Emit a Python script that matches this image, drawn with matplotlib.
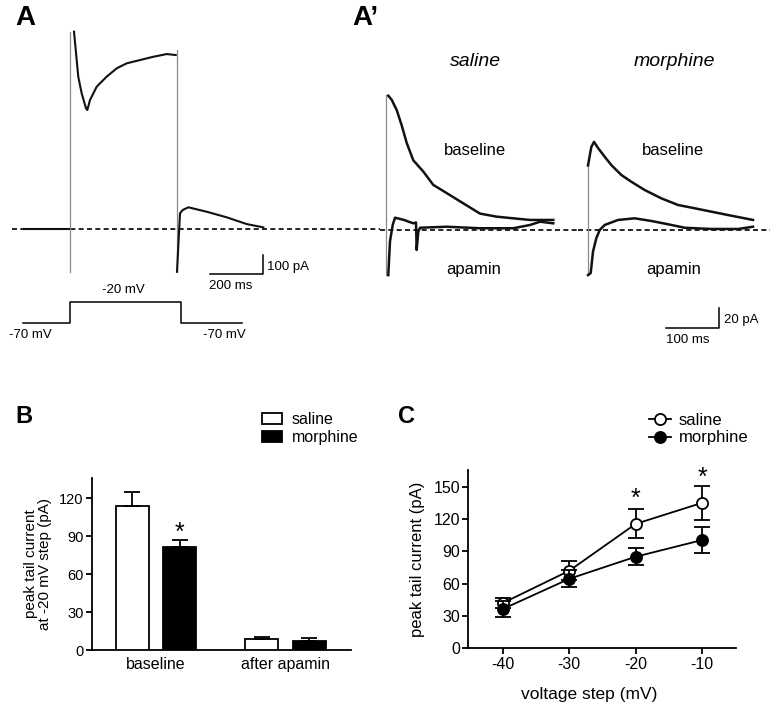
import matplotlib
matplotlib.use('Agg')
import matplotlib.pyplot as plt
from matplotlib.lines import Line2D
from matplotlib.patches import Patch

# ---------------- DATA ----------------
# Panel A: whole-cell current (time in ms from step onset, current in pA)
a_pre_t = [-173, -120, -60, 0]
a_pre_i = [0, 0, 0, 0]
a_on_t = [0, 0]
a_on_i = [-219, 1025]
a_step_t = [13.9, 29.8, 42.5, 58.8, 63.7, 73.8, 98.9, 136.3, 173.8, 211.2, 261, 311, 361, 395]
a_step_i = [1025, 792, 706, 628, 619, 671, 740, 792, 835, 861, 878, 895, 909, 904]
a_off_t = [398.5, 398.5]
a_off_i = [-219, 930]
a_tail_t = [399.6, 410.9, 421, 442, 511, 586, 661, 723]
a_tail_i = [-219, 84, 101, 115, 92, 63, 28, 11]
# voltage protocol (ms, mV)
prot_t = [-178, 0, 0, 413, 413, 642]
prot_mv = [-70, -70, -20, -20, -70, -70]

# Panel A': tail currents (ms from repolarisation, pA)
sal_tr_t = [0, 0]
sal_tr_i = [-44, 132]
sal_base_t = [4.3, 10.7, 20.1, 29.5, 38.8, 51.2, 70, 88.7, 113.9, 145, 176.4, 207.7, 238.8, 270.2, 313.9]
sal_base_i = [131, 127, 117, 102, 85, 68, 57, 44, 36, 26, 16, 13, 11.4, 9.8, 9.8]
sal_apa_t = [4.3, 7.5, 12.6, 16.9, 32.5, 51.2, 56.3, 57.5, 60.6, 63.8, 113.9, 176.4, 238.8, 270.2, 289, 313.9]
sal_apa_i = [-44, -11, 5, 12, 10, 6.5, 7.3, -19.5, -1.7, 2.2, 3.2, 1.7, 1.7, 4.9, 8.1, 6.5]

mor_tr_t = [0, 0]
mor_tr_i = [-44, 63]
mor_base_t = [0, 6.2, 11.3, 18.8, 31.3, 43.7, 62.5, 81.2, 106.4, 137.5, 168.9, 200.2, 231.3, 262.7, 294, 309.6]
mor_base_i = [63, 81, 86, 80, 71.5, 63.4, 53.7, 47.1, 39, 30.9, 24.4, 21.2, 17.9, 14.6, 11.4, 9.8]
mor_apa_t = [0, 5.1, 9.4, 15.6, 22, 31.3, 56.3, 87.6, 118.8, 150.1, 181.4, 231.3, 281.4, 309.6]
mor_apa_i = [-44, -42, -21, -8, 0, 4.9, 9.8, 11.4, 8.8, 5.6, 2.2, 1, 1, 3.2]

# scale bars
sbA_ms, sbA_pA = 200, 100
sbA_t0, sbA_i0 = 523, -232
sbB_ms, sbB_pA = 100, 20
sbB_t0, sbB_i0 = 146.3, -95.9

# Panel B
b_groups = ['baseline', 'after apamin']
b_saline = [114, 8.4]
b_saline_sem = [11, 1.6]
b_morphine = [81.7, 6.9]
b_morphine_sem = [5, 2.3]
b_yticks = [0, 30, 60, 90, 120]

# Panel C
c_volt = [-40, -30, -20, -10]
c_saline = [42, 72, 115.5, 135]
c_saline_err = [5, 9, 13.5, 15.5]
c_morphine = [36.5, 64.5, 85, 100.5]
c_morphine_err = [7.5, 8, 8, 12.5]
c_yticks = [0, 30, 60, 90, 120, 150]
c_star_x = [-20, -10]
c_star_y = [132, 152]

# ---------------- FIGURE ----------------
plt.rcParams['font.family'] = ['Liberation Sans', 'DejaVu Sans']
plt.rcParams['axes.unicode_minus'] = False

W, H = 772, 706
fig = plt.figure(figsize=(W / 100, H / 100), dpi=100)


def px_axes(x0, y0, x1, y1, ox, oy, sx, sy):
    ax = fig.add_axes([x0 / W, 1 - y1 / H, (x1 - x0) / W, (y1 - y0) / H])
    ax.set_xlim((x0 - ox) / sx, (x1 - ox) / sx)
    ax.set_ylim((oy - y1) / sy, (oy - y0) / sy)
    ax.axis('off')
    ax.patch.set_alpha(0)
    return ax


def ftext(x, y, s, **kw):
    fig.text(x / W, 1 - y / H, s, **kw)


TR = '#111111'
GR = '#8a8a8a'
dash = dict(color='black', lw=1.2, ls=(0, (3, 2)))

# ---- Panel A ----
axA = px_axes(0, 25, 380, 300, 70.3, 229.5, 0.267, 0.193)
axA.axhline(0, xmin=11.7 / 380, xmax=1, **dash)
axA.plot(a_pre_t, a_pre_i, color=TR, lw=1.5)
axA.plot(a_on_t, a_on_i, color=GR, lw=0.9)
axA.plot(a_step_t, a_step_i, color=TR, lw=1.5)
axA.plot(a_off_t, a_off_i, color=GR, lw=0.9)
axA.plot(a_tail_t, a_tail_i, color=TR, lw=1.5)
axA.plot([sbA_t0, sbA_t0 + sbA_ms, sbA_t0 + sbA_ms],
         [sbA_i0, sbA_i0, sbA_i0 + sbA_pA], color='black', lw=1.1)

axP = px_axes(0, 290, 380, 345, 70.3, 293.3, 0.267, 0.42)
axP.plot(prot_t, prot_mv, color='black', lw=1.1)

small = 9.5
ftext(267.3, 270, '100 pA', fontsize=small, va='baseline', ha='left')
ftext(209.3, 289.3, '200 ms', fontsize=small, va='baseline', ha='left')
ftext(123, 293.3, '-20 mV', fontsize=small, va='baseline', ha='center')
ftext(30, 337.7, '-70 mV', fontsize=small, va='baseline', ha='center')
ftext(224, 337.7, '-70 mV', fontsize=small, va='baseline', ha='center')

# ---- Panel A' ----
axS = px_axes(380, 80, 578, 300, 386, 230, 0.533, 1.025)
axS.axhline(0, **dash)
axS.plot(sal_tr_t, sal_tr_i, color=GR, lw=0.9)
axS.plot(sal_base_t, sal_base_i, color=TR, lw=1.8)
axS.plot(sal_apa_t, sal_apa_i, color=TR, lw=1.8)

axM = px_axes(578, 80, 772, 345, 588, 230, 0.533, 1.025)
axM.axhline(0, xmin=0, xmax=(770 - 578) / 194, **dash)
axM.plot(mor_tr_t, mor_tr_i, color=GR, lw=0.9)
axM.plot(mor_base_t, mor_base_i, color=TR, lw=1.8)
axM.plot(mor_apa_t, mor_apa_i, color=TR, lw=1.8)
axM.plot([sbB_t0, sbB_t0 + sbB_ms, sbB_t0 + sbB_ms],
         [sbB_i0, sbB_i0, sbB_i0 + sbB_pA], color='black', lw=1.1)

ftext(475.8, 66, 'saline', fontsize=14, style='italic', ha='center', va='baseline')
ftext(674, 66, 'morphine', fontsize=14, style='italic', ha='center', va='baseline')
ftext(475, 155.3, 'baseline', fontsize=12, ha='center', va='baseline')
ftext(673.3, 155.3, 'baseline', fontsize=12, ha='center', va='baseline')
ftext(474, 274, 'apamin', fontsize=12, ha='center', va='baseline')
ftext(674, 274, 'apamin', fontsize=12, ha='center', va='baseline')
ftext(724, 323.3, '20 pA', fontsize=small, va='baseline', ha='left')
ftext(666, 343.3, '100 ms', fontsize=small, va='baseline', ha='left')

# panel letters
ftext(15, 25, 'A', fontsize=20, fontweight='bold', va='baseline')
ftext(352, 25, 'A\u2019', fontsize=20, fontweight='bold', va='baseline')
ftext(15, 423, 'B', fontsize=17, fontweight='bold', va='baseline')
ftext(398, 423, 'C', fontsize=17, fontweight='bold', va='baseline')

# ---- Panel B ----
axB = fig.add_axes([92 / W, 1 - 650 / H, 259 / W, 172 / H])
bw = 0.255
off = 0.183
xg = list(range(len(b_groups)))
ekw = dict(elinewidth=1.3, capthick=1.3, ecolor='black')
axB.bar([x - off for x in xg], b_saline, bw, color='white', edgecolor='black', lw=1.3,
        yerr=[[0] * len(b_saline), b_saline_sem], capsize=6, error_kw=ekw, zorder=3)
axB.bar([x + off for x in xg], b_morphine, bw, color='black', edgecolor='black', lw=1.3,
        yerr=[[0] * len(b_morphine), b_morphine_sem], capsize=6, error_kw=ekw, zorder=3)
axB.text(xg[0] + off, b_morphine[0] + b_morphine_sem[0], '*', fontsize=18,
         ha='center', va='baseline')
axB.set_xlim(-0.494, 1.506)
axB.set_ylim(0, 136)
axB.set_yticks(b_yticks)
axB.set_xticks(xg)
axB.set_xticklabels(b_groups, fontsize=11.5)
axB.tick_params(axis='x', length=0, pad=5)
axB.tick_params(axis='y', labelsize=10.5, length=4, width=1.3, pad=2)
for s in ['top', 'right']:
    axB.spines[s].set_visible(False)
for s in ['left', 'bottom']:
    axB.spines[s].set_linewidth(1.3)
axB.set_ylabel('peak tail current\nat -20 mV step (pA)', fontsize=11, linespacing=1.0)
axB.yaxis.set_label_coords((51.7 - 92) / 259, 0.5)

legB = fig.legend(handles=[Patch(facecolor='white', edgecolor='black', lw=1.3, label='saline'),
                           Patch(facecolor='black', edgecolor='black', lw=1.3, label='morphine')],
                  loc='upper left', bbox_to_anchor=(262 / W, 1 - 412 / H), frameon=False,
                  fontsize=11.5, handlelength=1.25, handleheight=0.7, handletextpad=0.6,
                  labelspacing=0.2, borderpad=0, borderaxespad=0)

# ---- Panel C ----
axC = fig.add_axes([468.3 / W, 1 - 648.3 / H, 267.7 / W, 178.3 / H])
axC.errorbar(c_volt, c_saline, yerr=c_saline_err, color='black', lw=1.3, marker='o',
             ms=8, mfc='white', mec='black', mew=1.3, capsize=6, elinewidth=1.3,
             capthick=1.3, zorder=3)
axC.errorbar(c_volt, c_morphine, yerr=c_morphine_err, color='black', lw=1.3, marker='o',
             ms=8, mfc='black', mec='black', mew=1.3, capsize=6, elinewidth=1.3,
             capthick=1.3, zorder=4)
for sx, sy in zip(c_star_x, c_star_y):
    axC.text(sx, sy, '*', fontsize=18, ha='center', va='baseline', clip_on=False)
axC.set_xlim(-45.2, -4.9)
axC.set_ylim(0, 165.5)
axC.set_xticks(c_volt)
axC.set_yticks(c_yticks)
axC.tick_params(labelsize=11.5, length=4, width=1.3, pad=2)
for s in ['top', 'right']:
    axC.spines[s].set_visible(False)
for s in ['left', 'bottom']:
    axC.spines[s].set_linewidth(1.3)
axC.set_ylabel('peak tail current (pA)', fontsize=12)
axC.yaxis.set_label_coords((425 - 468.3) / 267.7, 0.5)
axC.set_xlabel('voltage step (mV)', fontsize=12.5)
axC.xaxis.set_label_coords(0.45, (648.3 - 687) / 178.3)

legC = fig.legend(handles=[Line2D([], [], color='black', lw=1.3, marker='o', ms=8, mfc='white',
                                  mec='black', mew=1.3, label='saline'),
                           Line2D([], [], color='black', lw=1.3, marker='o', ms=8, mfc='black',
                                  mec='black', mew=1.3, label='morphine')],
                  loc='upper left', bbox_to_anchor=(649 / W, 1 - 413 / H), frameon=False,
                  fontsize=12, handlelength=1.3, handletextpad=0.5,
                  labelspacing=0.15, borderpad=0, borderaxespad=0)

fig.savefig('out.png', dpi=100)
